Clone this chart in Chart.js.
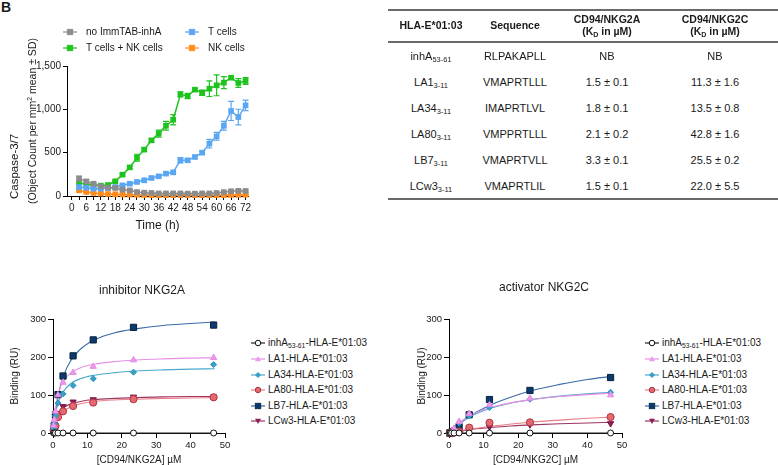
<!DOCTYPE html>
<html>
<head>
<meta charset="utf-8">
<script src="https://cdn.jsdelivr.net/npm/chart.js@4.4.1/dist/chart.umd.min.js"></script>
<style>
html, body { margin: 0; padding: 0; background: #fff; overflow: hidden; }
body { width: 778px; height: 465px; position: relative; font-family: "Liberation Sans", Arial, sans-serif; color: #1a1a1a; }
.abs { position: absolute; white-space: nowrap; }
canvas { position: absolute; }
sub { font-size: 0.68em; position: relative; top: 0.25em; vertical-align: baseline; line-height: 0; }
.leyenda { font-size: 10px; line-height: 12px; }
.tabla { font-size: 11px; line-height: 12px; transform: translateX(-50%); }
.cab { font-weight: bold; font-size: 10.5px; }
.linea { position: absolute; left: 388px; width: 390px; height: 2px; background: #6a6a6a; }
</style>
</head>
<body>
<div class="abs" style="left:1px;top:-1px;font-weight:bold;font-size:14px;">B</div>

<canvas id="chartCaspasa" width="260" height="235" style="left:0;top:0"></canvas>
<canvas id="chartNKG2A" width="240" height="232" style="left:0;top:240px"></canvas>
<canvas id="chartNKG2C" width="240" height="232" style="left:400px;top:240px"></canvas>

<div class="abs" style="left:7px;top:199px;transform:rotate(-90deg);transform-origin:left top;font-size:11.5px;line-height:14px;">Caspase-3/7</div>
<div class="abs" style="left:26px;top:204px;transform:rotate(-90deg);transform-origin:left top;font-size:10.5px;line-height:12px;">(Object Count per mm<sup style="font-size:0.65em;line-height:0">2</sup> mean ± SD)</div>

<div class="abs" style="left:142px;top:283px;font-size:12px;transform:translateX(-50%)">inhibitor NKG2A</div>
<div class="abs" style="left:544px;top:280px;font-size:12px;transform:translateX(-50%)">activator NKG2C</div>

<div id="capas"></div>

<script>
// Panel superior: caspasa-3/7 a lo largo del tiempo
const horas = [3, 6, 9, 12, 15, 18, 21, 24, 27, 30, 33, 36, 39, 42, 45, 48, 51, 54, 57, 60, 63, 66, 69, 72];
const sinImmtab = [200, 169, 142, 112, 96, 92, 73, 65, 46, 38, 35, 30, 30, 30, 30, 28, 28, 30, 30, 35, 45, 55, 60, 58];
const sinImmtabDE = [30, 15, 12, 10, 8, 8, 8, 8, 8, 6, 6, 6, 6, 6, 6, 6, 6, 6, 6, 8, 10, 10, 12, 12];
const linfocitosT = [104, 96, 85, 85, 92, 104, 123, 142, 162, 181, 208, 227, 258, 273, 412, 412, 450, 500, 604, 688, 811, 981, 911, 1046];
const linfocitosTDE = [20, 15, 10, 10, 10, 10, 10, 10, 10, 10, 10, 10, 15, 15, 30, 15, 15, 20, 50, 45, 50, 110, 90, 60];
const tMasNK = [150, 135, 123, 120, 127, 170, 246, 330, 442, 535, 642, 720, 810, 880, 1173, 1154, 1227, 1192, 1238, 1277, 1308, 1365, 1304, 1327];
const tMasNKDE = [15, 10, 10, 10, 10, 10, 15, 15, 40, 20, 20, 40, 50, 60, 30, 30, 15, 30, 90, 120, 70, 20, 50, 40];
const celulasNK = [65, 46, 35, 27, 23, 20, 18, 15, 15, 12, 10, 10, 10, 10, 10, 10, 10, 10, 10, 10, 10, 12, 12, 15];
const celulasNKDE = [10, 8, 6, 6, 6, 5, 5, 5, 5, 5, 5, 5, 5, 5, 5, 5, 5, 5, 5, 5, 5, 5, 5, 5];
const ticksHoras = [0, 3, 6, 9, 12, 15, 18, 21, 24, 27, 30, 33, 36, 39, 42, 45, 48, 51, 54, 57, 60, 63, 66, 69, 72];
const ticksCaspasa = [0, 500, 1000, 1500];

// Tabla de afinidades
const peptidos = ['inhA', 'LA1', 'LA34', 'LA80', 'LB7', 'LCw3'];
const subindices = ['53-61', '3-11', '3-11', '3-11', '3-11', '3-11'];
const secuencias = ['RLPAKAPLL', 'VMAPRTLLL', 'IMAPRTLVL', 'VMPPRTLLL', 'VMAPRTVLL', 'VMAPRTLIL'];
const kdNKG2A = ['NB', '1.5 ± 0.1', '1.8 ± 0.1', '2.1 ± 0.2', '3.3 ± 0.1', '1.5 ± 0.1'];
const kdNKG2C = ['NB', '11.3 ± 1.6', '13.5 ± 0.8', '42.8 ± 1.6', '25.5 ± 0.2', '22.0 ± 5.5'];

// Paneles inferiores: union (RU) frente a concentracion (uM)
const concentraciones = [0.18, 0.37, 0.73, 1.46, 2.92, 5.84, 11.7, 23.4, 46.7];
const nkg2aInhA = [0, 0, 0, 0, 0, 0, 0, 0, 0];
const nkg2aLA1 = [20, 35, 57, 100, 133, 159, 175, 192, 198];
const nkg2aLA34 = [12, 25, 45, 79, 103, 125, 143, 160, 180];
const nkg2aLA80 = [7, 12, 19, 42, 57, 71, 80, 89, 94];
const nkg2aLB7 = [10, 19, 48, 101, 150, 203, 245, 278, 284];
const nkg2aLCw3 = [10, 20, 35, 52, 70, 82, 88, 95, 95];

const nkg2cInhA = [0, 0, 0, 0, 0, 0, 0, 0, 0];
const nkg2cLA1 = [0, 1, 3, 12, 30, 51, 74, 91, 100];
const nkg2cLA34 = [0, 1, 2, 10, 26, 45, 67, 89, 107];
const nkg2cLA80 = [0, 0, 0, 1, 4, 14, 27, 28, 42];
const nkg2cLB7 = [0, 0, 2, 5, 17, 48, 88, 112, 146];
const nkg2cLCw3 = [0, 0, 0, 1, 3, 8, 16, 22, 25];

// Curvas de ajuste
const xAjuste = [0, 0.5, 1, 2, 3, 5, 8, 12, 18, 24, 32, 40, 47];
const ajusteAInhA = [0, 0, 0, 0, 0, 0, 0, 0, 0, 0, 0, 0, 0];
const ajusteALA1 = [0, 51, 82, 117, 136, 157, 172, 181, 188, 192, 195, 197, 198];
const ajusteALA34 = [0, 38, 62, 92, 109, 129, 143, 152, 159, 163, 166, 168, 169];
const ajusteALA80 = [0, 19, 31, 47, 57, 68, 77, 83, 87, 89, 91, 92, 93];
const ajusteALB7 = [0, 41, 72, 118, 149, 188, 221, 245, 264, 274, 283, 288, 292];
const ajusteALCw3 = [0, 25, 40, 57, 66, 76, 83, 88, 91, 93, 95, 96, 96];

const ajusteCInhA = [0, 0, 0, 0, 0, 0, 0, 0, 0, 0, 0, 0, 0];
const ajusteCLA1 = [0, 5.5, 10.6, 19.5, 27, 40, 54, 67, 80, 88, 96, 101, 105];
const ajusteCLA34 = [0, 5, 9.5, 18, 25, 37, 51, 65, 79, 88, 97, 103, 107];
const ajusteCLA80 = [0, 0.9, 1.8, 3.6, 5.2, 8.4, 12.6, 17.5, 23.7, 28.8, 34, 38.7, 42];
const ajusteCLB7 = [0, 4.4, 8.7, 17, 24, 38, 55, 74, 95, 112, 128, 141, 149];
const ajusteCLCw3 = [0, 0.9, 1.8, 3.4, 4.9, 7.6, 11, 14.5, 18.5, 21.4, 24.3, 26.5, 28];

const ticksConc = [0, 10, 20, 30, 40, 50];
const ticksUnion = [0, 100, 200, 300];

const FUENTE = '"Liberation Sans", Arial, sans-serif';
const NEGRO = '#1a1a1a';

// estilos de cada peptido (marcador, relleno, borde, linea)
const ESTILOS = [
    { forma: 'circle', radio: 3, relleno: '#ffffff', borde: '#111111', linea: '#222222', rot: 0 },
    { forma: 'triangle', radio: 3.6, relleno: '#ee98ee', borde: '#e08ae0', linea: '#e690e6', rot: 0 },
    { forma: 'rectRot', radio: 3, relleno: '#38a0c8', borde: '#2f93bb', linea: '#4aa8cc', rot: 0 },
    { forma: 'circle', radio: 3.6, relleno: '#e6676d', borde: '#a83844', linea: '#ea7e88', rot: 0 },
    { forma: 'rect', radio: 4.4, relleno: '#0c3a6c', borde: '#06223f', linea: '#3a6aa8', rot: 0 },
    { forma: 'triangle', radio: 3.6, relleno: '#8e1f52', borde: '#7a1745', linea: '#a03462', rot: 180 }
];

const barrasError = {
    id: 'barrasError',
    afterDatasetDraw(chart, args) {
        const ds = chart.data.datasets[args.index];
        if (!ds.sd) return;
        const { ctx } = chart;
        const y = chart.scales.y;
        ctx.save();
        ctx.strokeStyle = ds.borderColor;
        ctx.lineWidth = 1.2;
        args.meta.data.forEach((pt, i) => {
            const v = ds.data[i].y;
            const e = ds.sd[i];
            const arriba = y.getPixelForValue(v + e);
            const abajo = y.getPixelForValue(Math.max(v - e, 0));
            ctx.beginPath();
            ctx.moveTo(pt.x, arriba); ctx.lineTo(pt.x, abajo);
            ctx.moveTo(pt.x - 3, arriba); ctx.lineTo(pt.x + 3, arriba);
            ctx.moveTo(pt.x - 3, abajo); ctx.lineTo(pt.x + 3, abajo);
            ctx.stroke();
        });
        ctx.restore();
    }
};

function pares(xs, ys) {
    return xs.map((x, i) => ({ x, y: ys[i] }));
}

function ejeBase(ticks, extra) {
    return Object.assign({
        type: 'linear',
        afterBuildTicks: s => { s.ticks = ticks.map(v => ({ value: v })); },
        ticks: { color: NEGRO, font: { family: FUENTE, size: 10 }, padding: 2, maxRotation: 0, autoSkip: false },
        grid: { drawOnChartArea: false, drawTicks: true, tickLength: 4, color: '#000', tickColor: '#000' },
        border: { display: true, color: '#000', width: 1 }
    }, extra);
}

// ---- Panel de caspasa ----
const seriesCaspasa = [
    { etiqueta: 'no ImmTAB-inhA', datos: sinImmtab, de: sinImmtabDE, color: '#8c8c8c' },
    { etiqueta: 'T cells', datos: linfocitosT, de: linfocitosTDE, color: '#5aa6f2' },
    { etiqueta: 'T cells + NK cells', datos: tMasNK, de: tMasNKDE, color: '#1ec31e' },
    { etiqueta: 'NK cells', datos: celulasNK, de: celulasNKDE, color: '#ff8b1c' }
];

new Chart(document.getElementById('chartCaspasa'), {
    type: 'line',
    data: {
        datasets: seriesCaspasa.map(s => ({
            label: s.etiqueta,
            data: pares(horas, s.datos),
            sd: s.de,
            borderColor: s.color,
            backgroundColor: s.color,
            borderWidth: 1.5,
            pointStyle: 'rect',
            pointRadius: 4,
            pointBorderWidth: 0,
            clip: false
        }))
    },
    options: {
        responsive: false,
        animation: false,
        events: [],
        layout: { padding: { top: 66, right: 12, left: 0, bottom: 0 } },
        plugins: { legend: { display: false }, tooltip: { enabled: false } },
        scales: {
            x: ejeBase(ticksHoras, {
                min: -2, max: 73,
                ticks: {
                    color: NEGRO, font: { family: FUENTE, size: 10 }, padding: 2, maxRotation: 0, autoSkip: false,
                    callback: v => (v % 6 === 0 ? v : '')
                },
                grid: { drawOnChartArea: false, tickLength: 4, color: '#000', tickColor: '#000' },
                afterFit: s => { s.height = 39; },
                title: { display: true, text: 'Time (h)', color: NEGRO, font: { family: FUENTE, size: 12 }, padding: { top: 0, bottom: 2 } }
            }),
            y: ejeBase(ticksCaspasa, {
                min: 0, max: 1500,
                afterFit: s => { s.width = 67; }
            })
        }
    },
    plugins: [barrasError]
});

// ---- Paneles de union ----
function graficaUnion(id, datos, ajustes, anchoEje, margenTitulo, margenDerecho, tituloX) {
    const puntos = datos.map((d, i) => ({
        data: pares(concentraciones, d),
        showLine: false,
        pointStyle: ESTILOS[i].forma,
        pointRotation: ESTILOS[i].rot,
        pointRadius: ESTILOS[i].radio,
        pointBackgroundColor: ESTILOS[i].relleno,
        pointBorderColor: ESTILOS[i].borde,
        pointBorderWidth: 1,
        clip: false,
        order: 0
    }));
    const curvas = ajustes.map((a, i) => ({
        data: pares(xAjuste, a),
        showLine: true,
        borderColor: ESTILOS[i].linea,
        borderWidth: 1.1,
        pointRadius: 0,
        cubicInterpolationMode: 'monotone',
        clip: false,
        order: 1
    }));
    new Chart(document.getElementById(id), {
        type: 'scatter',
        data: { datasets: puntos.concat(curvas) },
        options: {
            responsive: false,
            animation: false,
            events: [],
            layout: { padding: { top: 79, right: margenDerecho, left: 0, bottom: 0 } },
            plugins: { legend: { display: false }, tooltip: { enabled: false } },
            scales: {
                x: ejeBase(ticksConc, {
                    min: 0, max: 50,
                    grid: { drawOnChartArea: false, tickLength: 5, color: '#000', tickColor: '#000' },
                    ticks: { color: NEGRO, font: { family: FUENTE, size: 9.5 }, padding: 2, maxRotation: 0, autoSkip: false },
                    afterFit: s => { s.height = 39; },
                    title: { display: true, text: tituloX, color: NEGRO, font: { family: FUENTE, size: 10 }, padding: { top: 0, bottom: 6 } }
                }),
                y: ejeBase(ticksUnion, {
                    min: 0, max: 300,
                    grid: { drawOnChartArea: false, tickLength: 5, color: '#000', tickColor: '#000' },
                    ticks: { color: NEGRO, font: { family: FUENTE, size: 9.5 }, padding: 2, autoSkip: false },
                    afterFit: s => { s.width = anchoEje; },
                    title: { display: true, text: 'Binding (RU)', color: NEGRO, font: { family: FUENTE, size: 10 }, padding: { top: margenTitulo, bottom: 0 } }
                })
            }
        }
    });
}

graficaUnion('chartNKG2A',
    [nkg2aInhA, nkg2aLA1, nkg2aLA34, nkg2aLA80, nkg2aLB7, nkg2aLCw3],
    [ajusteAInhA, ajusteALA1, ajusteALA34, ajusteALA80, ajusteALB7, ajusteALCw3],
    53, 9, 15, '[CD94/NKG2A] \u00b5M');

graficaUnion('chartNKG2C',
    [nkg2cInhA, nkg2cLA1, nkg2cLA34, nkg2cLA80, nkg2cLB7, nkg2cLCw3],
    [ajusteCInhA, ajusteCLA1, ajusteCLA34, ajusteCLA80, ajusteCLB7, ajusteCLCw3],
    49, 16, 18, '[CD94/NKG2C] \u00b5M');

// ---- Leyendas y tabla en HTML ----
const capas = document.getElementById('capas');

function marcadorSVG(forma, relleno, borde, linea, rot, tam) {
    const c = 7;
    let figura = '';
    if (forma === 'circle') figura = `<circle cx="${c}" cy="5" r="${tam * 0.55}" fill="${relleno}" stroke="${borde}" stroke-width="1"/>`;
    if (forma === 'rect') figura = `<rect x="${c - tam / 2}" y="${5 - tam / 2}" width="${tam}" height="${tam}" fill="${relleno}" stroke="${borde}" stroke-width="0.8"/>`;
    if (forma === 'rectRot') figura = `<polygon points="${c},${5 - tam * 0.6} ${c + tam * 0.6},5 ${c},${5 + tam * 0.6} ${c - tam * 0.6},5" fill="${relleno}"/>`;
    if (forma === 'triangle') {
        const s = rot ? -1 : 1;
        figura = `<polygon points="${c},${5 - s * tam * 0.6} ${c + tam * 0.6},${5 + s * tam * 0.45} ${c - tam * 0.6},${5 + s * tam * 0.45}" fill="${relleno}"/>`;
    }
    return `<svg width="14" height="10" style="position:absolute;left:0;top:1px"><line x1="0" y1="5" x2="14" y2="5" stroke="${linea}" stroke-width="1.2"/>${figura}</svg>`;
}

function agregar(html, izq, arriba, clase) {
    const d = document.createElement('div');
    d.className = 'abs ' + (clase || '');
    d.style.left = izq + 'px';
    d.style.top = arriba + 'px';
    d.innerHTML = html;
    capas.appendChild(d);
}

// leyenda del panel de caspasa (2 x 2)
const posLeyendaA = [[63, 32], [185, 32], [63, 48], [185, 48]];
seriesCaspasa.forEach((s, i) => {
    const [x, y] = posLeyendaA[i];
    agregar(marcadorSVG('rect', s.color, s.color, s.color, 0, 5.5), x, y - 6);
    agregar(s.etiqueta, x + 23, y - 6, 'leyenda');
});

// leyendas de los paneles de union
const filasLeyenda = [343, 359, 374.5, 390, 405.5, 421];
function leyendaUnion(x0) {
    peptidos.forEach((p, i) => {
        const e = ESTILOS[i];
        const nombre = p + (i === 0 ? '<sub>' + subindices[0] + '</sub>' : '') + '-HLA-E*01:03';
        agregar(marcadorSVG(e.forma, e.relleno, e.borde, e.linea, e.rot, e.forma === 'rect' ? 5.5 : 5), x0, filasLeyenda[i] - 6);
        agregar(nombre, x0 + 17, filasLeyenda[i] - 6, 'leyenda');
    });
}
leyendaUnion(251);
leyendaUnion(645);

// tabla
const colX = [431, 515, 607, 715];
const filasTabla = [56, 82, 108, 134, 160, 186];
agregar('HLA-E*01:03', colX[0], 19, 'tabla cab');
agregar('Sequence', colX[1], 19, 'tabla cab');
agregar('CD94/NKG2A', colX[2], 13, 'tabla cab');
agregar('(K<sub>D</sub> in \u00b5M)', colX[2], 25, 'tabla cab');
agregar('CD94/NKG2C', colX[3], 13, 'tabla cab');
agregar('(K<sub>D</sub> in \u00b5M)', colX[3], 25, 'tabla cab');
peptidos.forEach((p, i) => {
    const y = filasTabla[i] - 6;
    agregar(p + '<sub>' + subindices[i] + '</sub>', colX[0], y, 'tabla');
    agregar(secuencias[i], colX[1], y, 'tabla');
    agregar(kdNKG2A[i], colX[2], y, 'tabla');
    agregar(kdNKG2C[i], colX[3], y, 'tabla');
});
[9, 41, 198].forEach(y => {
    const l = document.createElement('div');
    l.className = 'linea';
    l.style.top = y + 'px';
    capas.appendChild(l);
});
</script>
</body>
</html>
